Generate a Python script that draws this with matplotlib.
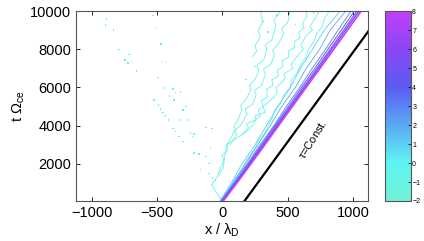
import numpy as np
import matplotlib.pyplot as plt
from matplotlib.colors import LinearSegmentedColormap, Normalize
from matplotlib.cm import ScalarMappable

plt.rcParams['font.family'] = ['Liberation Sans', 'DejaVu Sans']
plt.rcParams['mathtext.default'] = 'regular'

# colour scale
cb_stops = [-2, 0, 2, 4, 6, 8]
cb_colors = ['#72f2d4', '#5ef4f4', '#5aa8f5', '#5a5cf2', '#8a46f5', '#c040fa']

# contour lines along the front (x at fixed t)
t_front = [50, 1000, 2000, 3000, 4000, 5000, 6000, 7000, 8000, 9000, 10000]
x_lvl8 = [8, 113, 220, 326, 431, 536, 642, 748, 853, 958, 1062]
x_lvl6 = [4, 107, 212, 317, 421, 526, 630, 735, 838, 942, 1045]
x_lvl5 = [0, 102, 206, 310, 413, 517, 620, 723, 826, 928, 1030]
x_lvl4 = [-3, 97, 199, 301, 403, 505, 606, 708, 808, 910, 1010]
x_lvl3 = [-7, 90, 190, 290, 395, 490, 592, 688, 790, 885, 985]
x_lvl2 = [-11, 82, 176, 272, 368, 455, 560, 642, 745, 825, 945]
x_lvl1 = [-16, 68, 152, 252, 338, 425, 520, 598, 690, 780, 900]

# wiggly level 0 contours (cyan)
c1_x = [-6, -57, -83, -44, 6, 19, 32, 109, 185, 236, 255, 290, 275, 310, 300, 345, 340, 385, 380,
        430, 420, 465, 460, 510, 505, 555, 550, 595, 585, 625, 615, 650, 640]
c1_t = [90, 620, 890, 1240, 1760, 2370, 2980, 3330, 3680, 4030, 4300, 4500, 4800, 5000, 5300, 5500,
        5900, 6100, 6400, 6600, 6900, 7100, 7400, 7600, 7900, 8100, 8400, 8600, 8900, 9100, 9400,
        9700, 10000]
c2_x = [-15, 20, 65, 95, 140, 175, 205, 250, 275, 325, 350, 385, 400, 450, 470, 520, 530, 575, 600,
        640, 660, 700, 720, 765, 780, 820]
c2_t = [60, 400, 800, 1200, 1600, 2000, 2400, 2800, 3200, 3600, 4000, 4400, 4800, 5200, 5600, 6000,
        6400, 6800, 7200, 7600, 8000, 8400, 8800, 9200, 9600, 10000]
c3_x = [150, 200, 185, 260, 250, 330, 310, 350, 395, 420, 410, 450, 480, 470, 540, 525, 580, 620,
        600, 640, 690, 670, 720, 740]
c3_t = [3500, 3900, 4100, 4300, 4500, 4700, 5000, 5200, 5500, 5700, 6000, 6200, 6500, 6700, 7000,
        7200, 7700, 8000, 8200, 8700, 9000, 9200, 9700, 10000]

# level -1 contours (aquamarine)
g1_x = [-34, 11, 0, 40, 35, 57, 100, 90, 119, 150, 140, 180, 220, 205, 249, 280, 265, 318, 340,
        330, 379, 410, 395, 440]
g1_t = [1410, 2197, 2450, 2700, 3000, 3246, 3800, 4000, 4295, 4800, 5050, 5343, 5900, 6100, 6392,
        6900, 7150, 7441, 8000, 8250, 8490, 9200, 9500, 9958]
g2_x = [60, 110, 95, 140, 190, 175, 230, 260, 245, 300, 330, 315, 370, 400, 385, 430, 470, 455,
        500, 520]
g2_t = [3000, 3500, 3750, 4000, 4600, 4850, 5100, 5600, 5850, 6100, 6700, 6950, 7200, 7700, 7950,
        8300, 8800, 9100, 9400, 10000]
g3_x = [230, 262, 250, 290, 275, 312, 295, 300]
g3_t = [7600, 7900, 8200, 8600, 9000, 9470, 9750, 10000]

# isolated specks
dot_x = [-884, -892, -833, -790, -714, -744, -693, -721, -655, -530, -501, -468, -458, -425,
         -491, -443, -377, -356, -320, -402, -522, -488, -471, -453, -433, -412, -369, -279,
         -300, -318, -266, -377, -356, -331, -241, -216, -300, -228, -126, -80, -88, -216,
         -178, -126, -101, -165, -101, -75, -50, 262, 312, 180, 420, 560, 700, 350, 250]
dot_t = [9590, 9276, 9014, 8000, 7740, 7440, 7350, 7270, 6860, 9760, 9100, 8280, 7350, 7300,
         6510, 5960, 5920, 5730, 5750, 5550, 5340, 5080, 4860, 4680, 4510, 4300, 5340, 4990,
         4820, 4300, 4300, 3860, 3680, 3420, 3600, 3560, 3160, 3420, 3910, 3860, 2860, 2550,
         2510, 2370, 2020, 1710, 1500, 1240, 1150, 7897, 9470, 6400, 9800, 9300, 9900, 8900, 7100]
dot_lvl = [-0.5] * len(dot_x)

# tau = const line
const_x = [170, 1115]
const_t = [44, 8920]

cmap = LinearSegmentedColormap.from_list(
    'front', [((v - cb_stops[0]) / (cb_stops[-1] - cb_stops[0]), c) for v, c in zip(cb_stops, cb_colors)])
norm = Normalize(vmin=-2, vmax=8)

fig = plt.figure(figsize=(4.24, 2.41), dpi=100)
ax = fig.add_axes([0.179, 0.166, 0.689, 0.788])
cax = fig.add_axes([0.908, 0.166, 0.061, 0.788])

lines = [(c1_x, c1_t, 0), (c2_x, c2_t, 0), (c3_x, c3_t, 0),
         (g1_x, g1_t, -1), (g2_x, g2_t, -1), (g3_x, g3_t, -1)]
for xs, ts, lv in lines:
    ax.plot(xs, ts, color=cmap(norm(lv)), lw=0.6)

for xs, lv, lw in [(x_lvl1, 1, 0.6), (x_lvl2, 2, 0.6), (x_lvl3, 3, 0.6), (x_lvl4, 4, 0.7),
                   (x_lvl5, 5, 0.8), (x_lvl6, 6, 1.0), (x_lvl8, 8, 1.2)]:
    ax.plot(xs, t_front, color=cmap(norm(lv)), lw=lw)

ax.scatter(dot_x, dot_t, c=[cmap(norm(v)) for v in dot_lvl], s=1.0, marker='s', linewidths=0)

ax.plot(const_x, const_t, color='black', lw=1.6)
ax.text(690, 3300, r'$\tau$=Const.', rotation=58, fontsize=8, ha='center', va='center')

ax.set_xlim(-1120, 1115)
ax.set_ylim(44, 10000)
ax.set_xticks([-1000, -500, 0, 500, 1000])
ax.set_yticks([2000, 4000, 6000, 8000, 10000])
ax.tick_params(direction='in', top=True, right=True, labelsize=10.5, length=3, width=0.6)
for s in ax.spines.values():
    s.set_color('#555555')
    s.set_linewidth(0.8)
ax.set_xlabel(r'x / $\lambda_{D}$', fontsize=10.5, labelpad=1)
ax.set_ylabel(r't $\Omega_{ce}$', fontsize=10.5, labelpad=2)

cb = fig.colorbar(ScalarMappable(norm=norm, cmap=cmap), cax=cax, ticks=range(-2, 9))
cb.ax.tick_params(labelsize=5, length=2, width=0.5, direction='in', pad=1)
cb.outline.set_edgecolor('#555555')
cb.outline.set_linewidth(0.8)

fig.savefig('out.png', dpi=100)
